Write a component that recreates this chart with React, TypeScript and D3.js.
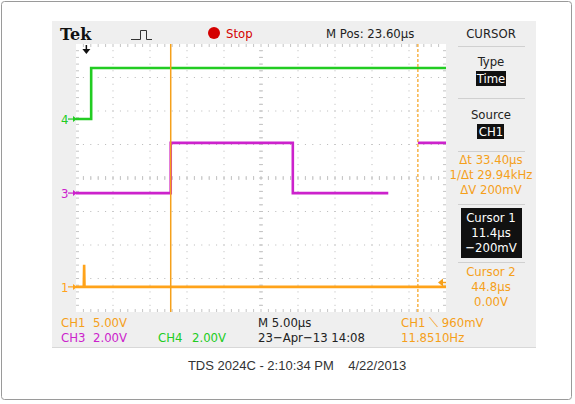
import React from 'react';
import * as d3 from 'd3';

// scope settings
const timePerDiv = 5; // µs
const mPos = 23.6; // µs, centre of screen
const divsX = 10;
const divsY = 8;

// traces: [time µs, volts], null volts = no data
const ch4Points: [number, number | null][] = [[-1.4, 0], [0.65, 0], [0.65, 3.05], [48.6, 3.05]];
const ch3Points: [number, number | null][] = [
  [-1.4, 0], [11.4, 0], [11.4, 3.0], [27.9, 3.0], [27.9, 0], [40.8, 0],
  [40.8, null], [44.8, null], [44.8, 3.0], [48.6, 3.0],
];
const ch1Points: [number, number | null][] = [[-1.4, 0], [-0.35, 0], [-0.3, 3.3], [-0.25, 0], [48.6, 0]];

// channel ground positions (divisions from centre) and volts/div
const channels = [
  { name: '4', points: ch4Points, ground: 1.76, vdiv: 2, color: '#22cc22' },
  { name: '3', points: ch3Points, ground: -0.45, vdiv: 2, color: '#cc22cc' },
  { name: '1', points: ch1Points, ground: -3.25, vdiv: 5, color: '#ffa31a' },
];

const cursorTimes = [11.4, 44.8];

const panelLines = [
  { text: 'Δt 33.40µs', y: 164 },
  { text: '1/Δt 29.94kHz', y: 179 },
  { text: 'ΔV 200mV', y: 194 },
];
const cursor1Lines = ['Cursor 1', '11.4µs', '−200mV'];
const cursor2Lines = ['Cursor 2', '44.8µs', '0.00V'];

const left = 76, right = 446, top = 44, bottom = 312;
const orange = '#f5a01a';
const font = "'Liberation Sans Narrow', 'Arial Narrow', 'DejaVu Sans Condensed', sans-serif";

export default function App() {
  const x = d3.scaleLinear()
    .domain([mPos - timePerDiv * divsX / 2, mPos + timePerDiv * divsX / 2])
    .range([left, right]);
  const yDiv = d3.scaleLinear().domain([-divsY / 2, divsY / 2]).range([bottom, top]);
  const dx = (right - left) / divsX;
  const dy = (bottom - top) / divsY;

  // dotted graticule
  const grid: JSX.Element[] = [];
  for (let i = 1; i < divsX; i++) {
    const gx = left + i * dx;
    for (let k = 1; k < divsY * 5; k++) {
      const gy = top + k * dy / 5;
      grid.push(<rect key={`v${i}-${k}`} x={gx - 0.5} y={gy - 0.5} width={1} height={1} fill="#b8b8b8" />);
    }
  }
  for (let j = 1; j < divsY; j++) {
    const gy = top + j * dy;
    for (let k = 1; k < divsX * 5; k++) {
      const gx = left + k * dx / 5;
      grid.push(<rect key={`h${j}-${k}`} x={gx - 0.5} y={gy - 0.5} width={1} height={1} fill="#b8b8b8" />);
    }
  }
  // centre axis ticks and border ticks
  const cx = left + 5 * dx, cy = top + 4 * dy;
  for (let k = 1; k < divsX * 5; k++) {
    const gx = left + k * dx / 5;
    grid.push(<line key={`ct${k}`} x1={gx} x2={gx} y1={cy - 2} y2={cy + 2} stroke="#c4c4c4" />);
    grid.push(<line key={`tt${k}`} x1={gx} x2={gx} y1={top} y2={top + 3} stroke="#c4c4c4" />);
    grid.push(<line key={`bt${k}`} x1={gx} x2={gx} y1={bottom - 3} y2={bottom} stroke="#c4c4c4" />);
  }
  for (let k = 1; k < divsY * 5; k++) {
    const gy = top + k * dy / 5;
    grid.push(<line key={`cv${k}`} x1={cx - 2} x2={cx + 2} y1={gy} y2={gy} stroke="#c4c4c4" />);
    grid.push(<line key={`lt${k}`} x1={left} x2={left + 3} y1={gy} y2={gy} stroke="#c4c4c4" />);
    grid.push(<line key={`rt${k}`} x1={right - 3} x2={right} y1={gy} y2={gy} stroke="#c4c4c4" />);
  }

  return (
    <svg width={575} height={404} style={{ position: 'absolute', left: 0, top: 0 }} fontFamily={font}>
      <rect x={0} y={0} width={575} height={404} fill="#fff" />
      <rect x={1.5} y={1.5} width={570} height={398} fill="none" stroke="#9a9a9a" rx={3} />
      {/* scope screen background */}
      <rect x={52} y={21} width={484} height={327} fill="#efefef" />
      <line x1={52} x2={536} y1={347.5} y2={347.5} stroke="#d8d8d8" />
      <rect x={left} y={top} width={right - left} height={bottom - top} fill="#fff" />
      {grid}

      {/* header */}
      <text x={60} y={40} fontFamily="'DejaVu Serif', serif" fontWeight="bold" fontSize={16} fill="#111">Tek</text>
      <path d="M131,39.5 H140.5 V30.5 H146.5 V39.5 H152" fill="none" stroke="#333" strokeWidth={1} />
      <circle cx={214} cy={33} r={6} fill="#d40000" />
      <text x={226} y={38} fontSize={13} fill="#d40000">Stop</text>
      <text x={326} y={38} fontSize={13} fill="#222">M Pos: 23.60µs</text>
      {/* trigger position marker */}
      <path d={`M${x(0)},45 V51`} stroke="#111" strokeWidth={1.5} />
      <path d={`M${x(0) - 4},49 L${x(0) + 4},49 L${x(0)},54 Z`} fill="#111" />

      {/* traces */}
      {channels.map(c => {
        const line = d3.line<[number, number | null]>()
          .defined(d => d[1] !== null)
          .x(d => x(d[0]))
          .y(d => yDiv(c.ground + (d[1] as number) / c.vdiv));
        const gy = yDiv(c.ground);
        return (
          <g key={c.name}>
            <path d={line(c.points) ?? ''} fill="none" stroke={c.color} strokeWidth={2.6} />
            <text x={61} y={gy + 5} fontSize={13} fill={c.color}>{c.name}</text>
            <path d={`M${left - 8},${gy} H${left}`} stroke={c.color} strokeWidth={1.2} />
            <path d={`M${left - 3},${gy - 3} L${left + 1},${gy} L${left - 3},${gy + 3} Z`} fill={c.color} />
          </g>
        );
      })}

      {/* cursors */}
      <line x1={x(cursorTimes[0])} x2={x(cursorTimes[0])} y1={top} y2={bottom} stroke={orange} strokeWidth={1.5} />
      <line x1={x(cursorTimes[1])} x2={x(cursorTimes[1])} y1={top} y2={bottom} stroke={orange} strokeWidth={1.2} strokeDasharray="3,2" />
      {/* trigger level marker */}
      <path d={`M${right - 8},${yDiv(-3.12)} L${right - 3},${yDiv(-3.12) - 4} L${right - 3},${yDiv(-3.12) + 4} Z`} fill={orange} />
      <path d={`M${right - 4},${yDiv(-3.12)} H${right}`} stroke={orange} strokeWidth={1.5} />

      {/* right-hand menu */}
      <g textAnchor="middle" fontSize={13}>
        <text x={491} y={38} fill="#222">CURSOR</text>
        <line x1={458} x2={525} y1={46.5} y2={46.5} stroke="#d0d0d0" />
        <text x={491} y={66} fill="#222">Type</text>
        <rect x={476} y={71} width={30} height={15} fill="#111" />
        <text x={491} y={83} fill="#fff">Time</text>
        <line x1={458} x2={525} y1={98.5} y2={98.5} stroke="#d0d0d0" />
        <text x={491} y={119} fill="#222">Source</text>
        <rect x={477} y={124} width={27} height={15} fill="#111" />
        <text x={491} y={136} fill="#fff">CH1</text>
        <line x1={458} x2={525} y1={151.5} y2={151.5} stroke="#d0d0d0" />
        {panelLines.map(p => (
          <text key={p.text} x={491} y={p.y} fill={orange}>{p.text}</text>
        ))}
        <line x1={458} x2={525} y1={204.5} y2={204.5} stroke="#d0d0d0" />
        <rect x={461} y={208} width={61} height={50} fill="#111" />
        {cursor1Lines.map((t, i) => (
          <text key={t} x={491} y={222 + i * 15} fill="#fff">{t}</text>
        ))}
        <line x1={458} x2={525} y1={262.5} y2={262.5} stroke="#d0d0d0" />
        {cursor2Lines.map((t, i) => (
          <text key={t} x={491} y={276 + i * 15} fill={orange}>{t}</text>
        ))}
      </g>

      {/* bottom readout */}
      <g fontSize={13}>
        <text x={61} y={327} fill={orange}>CH1</text>
        <text x={93} y={327} fill={orange}>5.00V</text>
        <text x={61} y={342} fill="#cc22cc">CH3</text>
        <text x={93} y={342} fill="#cc22cc">2.00V</text>
        <text x={158} y={342} fill="#22cc22">CH4</text>
        <text x={192} y={342} fill="#22cc22">2.00V</text>
        <text x={258} y={327} fill="#222">M 5.00µs</text>
        <text x={258} y={342} fill="#222">23−Apr−13 14:08</text>
        <text x={401} y={327} fill={orange}>CH1 ⟍ 960mV</text>
        <text x={401} y={342} fill={orange}>11.8510Hz</text>
      </g>

      <text x={297} y={370} textAnchor="middle" fontFamily="'Liberation Sans', Arial, sans-serif" fontSize={13} fill="#333">
        {'TDS 2024C - 2:10:34 PM\u00a0\u00a0\u00a0 4/22/2013'}
      </text>
    </svg>
  );
}
